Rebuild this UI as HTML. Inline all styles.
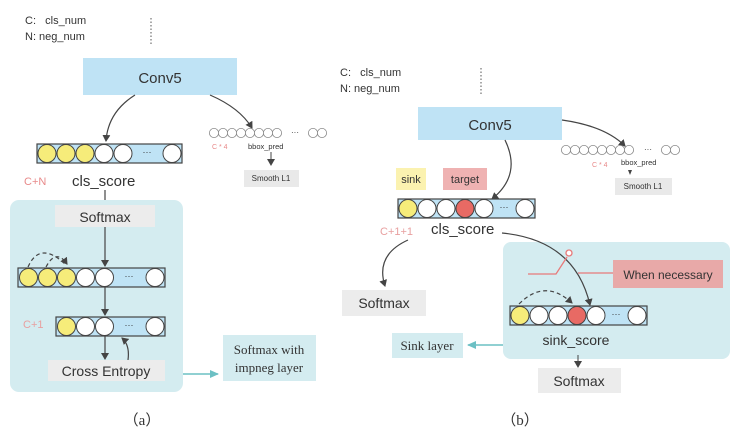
<!DOCTYPE html>
<html><head><meta charset="utf-8"><style>
html,body{margin:0;padding:0;background:#fff}
svg{display:block}
text{font-family:"Liberation Sans",sans-serif;fill:#333}
.s{font-family:"Liberation Serif",serif}
</style></head><body>
<svg width="740" height="440" viewBox="0 0 740 440">
<defs>
<marker id="a" markerWidth="8" markerHeight="8" refX="6" refY="4" orient="auto" markerUnits="userSpaceOnUse"><path d="M0,0 L7,4 L0,8 z" fill="#444"/></marker>
<marker id="t" markerWidth="10" markerHeight="8" refX="8" refY="4" orient="auto" markerUnits="userSpaceOnUse"><path d="M0,0 L9,4 L0,8 z" fill="#6cc0c4"/></marker>
</defs>
<!-- LEFT -->
<text x="25" y="24" font-size="11">C:&#160;&#160;&#160;cls_num</text>
<text x="25" y="40" font-size="11">N: neg_num</text>
<line x1="151" y1="18" x2="151" y2="44" stroke="#555" stroke-dasharray="1.5,2"/>
<rect x="83" y="58" width="154" height="37" fill="#bfe3f5"/>
<text x="160" y="83" font-size="15" text-anchor="middle">Conv5</text>
<path d="M135,95 Q108,112 106,141" stroke="#444" fill="none" stroke-width="1.2" marker-end="url(#a)"/>
<path d="M210,95 Q240,108 252,128" stroke="#444" fill="none" stroke-width="1.2" marker-end="url(#a)"/>
<rect x="37" y="144" width="145" height="19" fill="#bfe3f5" stroke="#444" stroke-width="1.2"/>
<g stroke="#444" stroke-width="1"><circle cx="47" cy="153.5" r="9" fill="#f6ec7a"/><circle cx="66" cy="153.5" r="9" fill="#f6ec7a"/><circle cx="85" cy="153.5" r="9" fill="#f6ec7a"/><circle cx="104" cy="153.5" r="9" fill="#fff"/><circle cx="123" cy="153.5" r="9" fill="#fff"/><circle cx="172" cy="153.5" r="9" fill="#fff"/></g>
<text x="147" y="155" font-size="9" text-anchor="middle" fill="#557">···</text>
<text x="24" y="185" font-size="11" style="fill:#e88a8a">C+N</text>
<text x="72" y="186" font-size="15">cls_score</text>
<g fill="#fff" stroke="#888" stroke-width="0.8">
<circle cx="214" cy="133" r="4.6"/><circle cx="223" cy="133" r="4.6"/><circle cx="232" cy="133" r="4.6"/><circle cx="241" cy="133" r="4.6"/><circle cx="250" cy="133" r="4.6"/><circle cx="259" cy="133" r="4.6"/><circle cx="268" cy="133" r="4.6"/><circle cx="277" cy="133" r="4.6"/><circle cx="313" cy="133" r="4.6"/><circle cx="322" cy="133" r="4.6"/></g>
<text x="295" y="135" font-size="8" text-anchor="middle" fill="#666">···</text>
<text x="212" y="149" font-size="7" style="fill:#e88a8a">C * 4</text>
<text x="248" y="149" font-size="7.5">bbox_pred</text>
<line x1="271" y1="152" x2="271" y2="165" stroke="#444" marker-end="url(#a)"/>
<rect x="244" y="170" width="55" height="17" fill="#e9e9e9"/>
<text x="271" y="181" font-size="8" text-anchor="middle">Smooth L1</text>
<line x1="105" y1="190" x2="105" y2="207" stroke="#444" stroke-width="1.2" marker-end="url(#a)"/>
<rect x="10" y="200" width="173" height="192" rx="9" fill="#d4ecf0"/>
<rect x="55" y="205" width="100" height="22" fill="#ececec"/>
<text x="105" y="222" font-size="14" text-anchor="middle">Softmax</text>
<line x1="105" y1="227" x2="105" y2="266" stroke="#444" stroke-width="1.2" marker-end="url(#a)"/>
<path d="M28,267 Q40,240 66,265" stroke="#444" fill="none" stroke-dasharray="4,3" stroke-width="1.2"/>
<path d="M46,267 Q56,248 67,264" stroke="#444" fill="none" stroke-dasharray="4,3" stroke-width="1.2" marker-end="url(#a)"/>
<rect x="18" y="268" width="147" height="19" fill="#bfe3f5" stroke="#444" stroke-width="1.2"/>
<g stroke="#444" stroke-width="1"><circle cx="28.5" cy="277.5" r="9" fill="#f6ec7a"/><circle cx="47.5" cy="277.5" r="9" fill="#f6ec7a"/><circle cx="66.5" cy="277.5" r="9" fill="#f6ec7a"/><circle cx="85.5" cy="277.5" r="9" fill="#fff"/><circle cx="104.5" cy="277.5" r="9" fill="#fff"/><circle cx="155" cy="277.5" r="9" fill="#fff"/></g>
<text x="129" y="279" font-size="9" text-anchor="middle" fill="#557">···</text>
<line x1="105" y1="287" x2="105" y2="315" stroke="#444" stroke-width="1.2" marker-end="url(#a)"/>
<text x="23" y="328" font-size="11" style="fill:#e8a0a0">C+1</text>
<rect x="56" y="317" width="109" height="19" fill="#bfe3f5" stroke="#444" stroke-width="1.2"/>
<g stroke="#444" stroke-width="1"><circle cx="66.5" cy="326.5" r="9" fill="#f6ec7a"/><circle cx="85.5" cy="326.5" r="9" fill="#fff"/><circle cx="104.5" cy="326.5" r="9" fill="#fff"/><circle cx="155" cy="326.5" r="9" fill="#fff"/></g>
<text x="129" y="328" font-size="9" text-anchor="middle" fill="#557">···</text>
<line x1="105" y1="336" x2="105" y2="359" stroke="#444" stroke-width="1.2" marker-end="url(#a)"/>
<path d="M128,360 Q130,345 122,338" stroke="#444" fill="none" stroke-width="1.2" marker-end="url(#a)"/>
<rect x="48" y="360" width="117" height="21" fill="#ececec"/>
<text x="106" y="376" font-size="14" text-anchor="middle">Cross Entropy</text>
<line x1="183" y1="374" x2="218" y2="374" stroke="#6cc0c4" stroke-width="1.5" marker-end="url(#t)"/>
<rect x="223" y="335" width="93" height="46" fill="#d4ecf0"/>
<text x="269" y="354" font-size="13" text-anchor="middle" class="s">Softmax with</text>
<text x="269" y="372" font-size="13" text-anchor="middle" class="s">impneg layer</text>
<text x="142" y="425" font-size="15" text-anchor="middle" class="s">（a）</text>
<!-- RIGHT -->
<text x="340" y="76" font-size="11">C:&#160;&#160;&#160;cls_num</text>
<text x="340" y="92" font-size="11">N: neg_num</text>
<line x1="481" y1="68" x2="481" y2="94" stroke="#555" stroke-dasharray="1.5,2"/>
<rect x="418" y="107" width="144" height="33" fill="#bfe3f5"/>
<text x="490" y="130" font-size="15" text-anchor="middle">Conv5</text>
<path d="M505,140 Q522,175 492,199" stroke="#444" fill="none" stroke-width="1.2" marker-end="url(#a)"/>
<path d="M562,120 Q605,126 625,146" stroke="#444" fill="none" stroke-width="1.2" marker-end="url(#a)"/>
<g fill="#fff" stroke="#888" stroke-width="0.8">
<circle cx="566" cy="150" r="4.6"/><circle cx="575" cy="150" r="4.6"/><circle cx="584" cy="150" r="4.6"/><circle cx="593" cy="150" r="4.6"/><circle cx="602" cy="150" r="4.6"/><circle cx="611" cy="150" r="4.6"/><circle cx="620" cy="150" r="4.6"/><circle cx="629" cy="150" r="4.6"/><circle cx="666" cy="150" r="4.6"/><circle cx="675" cy="150" r="4.6"/></g>
<text x="648" y="152" font-size="8" text-anchor="middle" fill="#666">···</text>
<text x="592" y="167" font-size="7" style="fill:#e88a8a">C * 4</text>
<text x="621" y="165" font-size="7.5">bbox_pred</text>
<path d="M628,170 L632,170 L630,175 z" fill="#444"/>
<rect x="615" y="178" width="57" height="17" fill="#e9e9e9"/>
<text x="643" y="189" font-size="8" text-anchor="middle">Smooth L1</text>
<rect x="396" y="168" width="30" height="22" fill="#fbf2b0"/>
<text x="411" y="183" font-size="11" text-anchor="middle">sink</text>
<rect x="443" y="168" width="44" height="22" fill="#efb2b2"/>
<text x="465" y="183" font-size="11" text-anchor="middle">target</text>
<rect x="398" y="199" width="137" height="19" fill="#bfe3f5" stroke="#444" stroke-width="1.2"/>
<g stroke="#444" stroke-width="1"><circle cx="408" cy="208.5" r="9" fill="#f6ec7a"/><circle cx="427" cy="208.5" r="9" fill="#fff"/><circle cx="446" cy="208.5" r="9" fill="#fff"/><circle cx="465" cy="208.5" r="9" fill="#e86a64"/><circle cx="484" cy="208.5" r="9" fill="#fff"/><circle cx="525" cy="208.5" r="9" fill="#fff"/></g>
<text x="504" y="210" font-size="9" text-anchor="middle" fill="#557">···</text>
<text x="380" y="235" font-size="11" style="fill:#e8a0a0">C+1+1</text>
<text x="431" y="234" font-size="15">cls_score</text>
<path d="M408,240 Q375,255 385,286" stroke="#444" fill="none" stroke-width="1.2" marker-end="url(#a)"/>
<rect x="342" y="290" width="84" height="26" fill="#ececec"/>
<text x="384" y="308" font-size="14" text-anchor="middle">Softmax</text>
<rect x="503" y="242" width="227" height="117" rx="8" fill="#d4ecf0"/>
<path d="M502,233 Q575,240 590,305" stroke="#444" fill="none" stroke-width="1.2" marker-end="url(#a)"/>
<path d="M528,274 L556,274 L567,257" stroke="#e87a7a" fill="none" stroke-width="1.3"/>
<circle cx="569" cy="253" r="3" fill="#fff" stroke="#e87a7a" stroke-width="1.3"/>
<line x1="578" y1="273" x2="613" y2="273" stroke="#e87a7a" stroke-width="1.3"/>
<rect x="613" y="260" width="110" height="28" fill="#e8a9a8"/>
<text x="668" y="279" font-size="12" text-anchor="middle">When necessary</text>
<path d="M519,304 Q545,278 572,303" stroke="#444" fill="none" stroke-dasharray="4,3" stroke-width="1.2" marker-end="url(#a)"/>
<rect x="510" y="306" width="137" height="19" fill="#bfe3f5" stroke="#444" stroke-width="1.2"/>
<g stroke="#444" stroke-width="1"><circle cx="520" cy="315.5" r="9" fill="#f6ec7a"/><circle cx="539" cy="315.5" r="9" fill="#fff"/><circle cx="558" cy="315.5" r="9" fill="#fff"/><circle cx="577" cy="315.5" r="9" fill="#e86a64"/><circle cx="596" cy="315.5" r="9" fill="#fff"/><circle cx="637" cy="315.5" r="9" fill="#fff"/></g>
<text x="616" y="317" font-size="9" text-anchor="middle" fill="#557">···</text>
<text x="576" y="345" font-size="14" text-anchor="middle">sink_score</text>
<line x1="578" y1="355" x2="578" y2="367" stroke="#444" marker-end="url(#a)"/>
<rect x="538" y="368" width="83" height="25" fill="#ececec"/>
<text x="579" y="386" font-size="14" text-anchor="middle">Softmax</text>
<line x1="503" y1="345" x2="468" y2="345" stroke="#6cc0c4" stroke-width="1.5" marker-end="url(#t)"/>
<rect x="392" y="333" width="71" height="25" fill="#d4ecf0"/>
<text x="427" y="350" font-size="13" text-anchor="middle" class="s">Sink layer</text>
<text x="520" y="425" font-size="15" text-anchor="middle" class="s">（b）</text>
</svg>
</body></html>
